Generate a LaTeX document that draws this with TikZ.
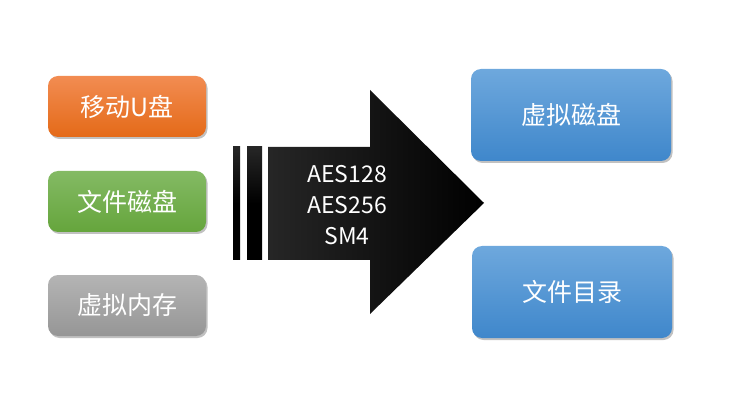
\documentclass[tikz,border=0pt]{standalone}
\usepackage{fontspec}
\setmainfont{Noto Sans CJK SC}
\usetikzlibrary{shadows}

\begin{document}
\begin{tikzpicture}
  [x=1pt,y=-1pt]
      \tikzstyle{box_style} = [rounded corners=10pt, text=white, font=\fontsize{25}{30}\selectfont,
        drop shadow={shadow xshift=1.5pt, shadow yshift=-2pt, opacity=0.35, fill=black!70}]
      \tikzstyle{src_style} = [box_style, minimum width=158pt, minimum height=61pt]
      \tikzstyle{dst_style} = [box_style, minimum width=200pt, minimum height=92pt,
        top color=blue_top, bottom color=blue_bot]
  \definecolor{orange_top}{HTML}{F28C52}
  \definecolor{orange_bot}{HTML}{E46A18}
  \definecolor{green_top}{HTML}{84BA64}
  \definecolor{green_bot}{HTML}{65A53C}
  \definecolor{gray_top}{HTML}{B4B4B4}
  \definecolor{gray_bot}{HTML}{969696}
  \definecolor{blue_top}{HTML}{6EA8DD}
  \definecolor{blue_bot}{HTML}{3F87CB}
  \useasboundingbox (0,0) rectangle (741,403);
  % sources
  \node[src_style, top color=orange_top, bottom color=orange_bot] (usb) at (127,106.5) {移动U盘};
  \node[src_style, top color=green_top, bottom color=green_bot] (fdisk) at (127,201.5) {文件磁盘};
  \node[src_style, top color=gray_top, bottom color=gray_bot] (vmem) at (127,305.5) {虚拟内存};
  % targets
  \node[dst_style] (vdisk) at (571,115) {虚拟磁盘};
  \node[dst_style] (fdir) at (572,292) {文件目录};
  % arrow
  \shade[top color=black!85, bottom color=black, middle color=black] (233,147) rectangle (240,260);
  \shade[top color=black!85, bottom color=black, middle color=black] (247,147) rectangle (262,260);
  \shade[left color=black!85, right color=black]
    (268,147) -- (370,147) -- (370,90) -- (484,203) -- (370,314) -- (370,260) -- (268,260) -- cycle;
  \node[text=white, align=center, font=\fontsize{23}{31}\selectfont] (algo) at (347,205) {AES128\\AES256\\SM4};
\end{tikzpicture}
\end{document}
